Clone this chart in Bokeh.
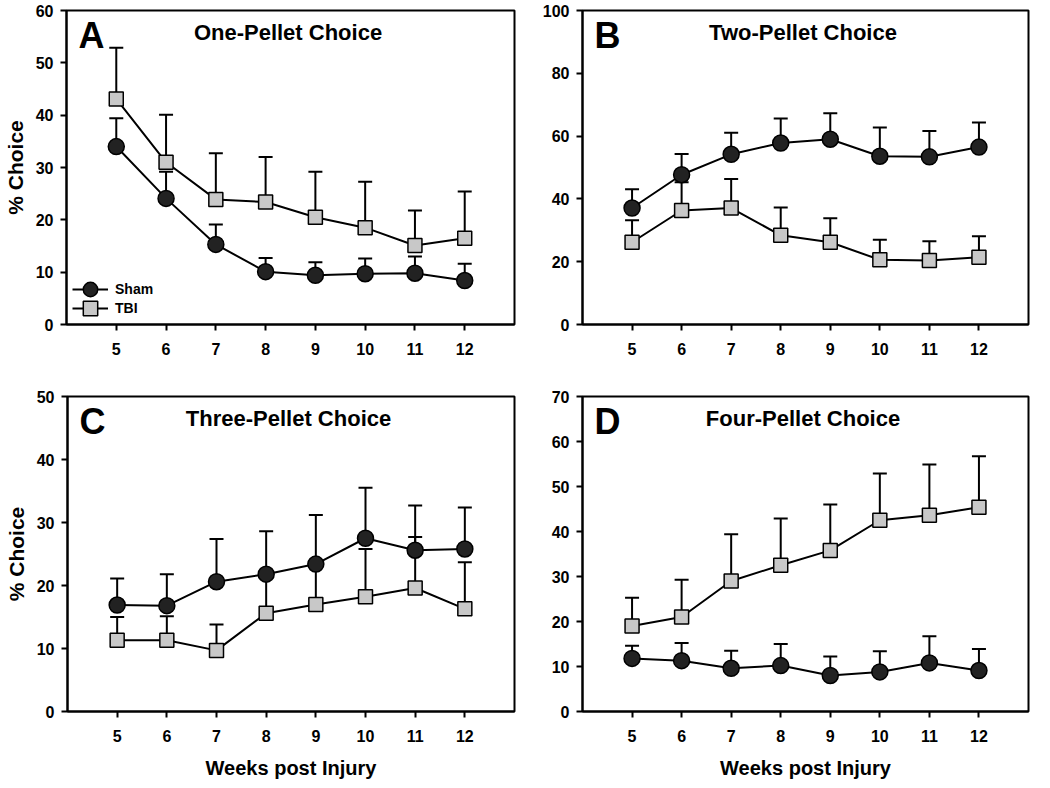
from bokeh.plotting import figure
from bokeh.models import (Range1d, Whisker, TeeHead, ColumnDataSource, Label,
                          Legend, LegendItem, FixedTicker)
from bokeh.layouts import column, row
from bokeh.embed import file_html
from bokeh.resources import INLINE

weeks = [5, 6, 7, 8, 9, 10, 11, 12]

A_sham = [34.0, 24.1, 15.3, 10.1, 9.4, 9.7, 9.8, 8.4]
A_sham_sem = [5.4, 5.1, 3.8, 2.6, 2.5, 2.9, 3.2, 3.2]
A_tbi = [43.1, 31.0, 23.9, 23.4, 20.5, 18.5, 15.1, 16.5]
A_tbi_sem = [9.8, 9.1, 8.8, 8.6, 8.7, 8.8, 6.7, 8.9]

B_sham = [37.1, 47.7, 54.2, 57.8, 59.0, 53.6, 53.4, 56.5]
B_sham_sem = [6.0, 6.6, 6.9, 7.8, 8.3, 9.1, 8.2, 7.8]
B_tbi = [26.2, 36.3, 37.1, 28.4, 26.2, 20.6, 20.4, 21.4]
B_tbi_sem = [7.0, 9.0, 9.2, 8.9, 7.6, 6.4, 6.1, 6.7]

C_sham = [16.9, 16.8, 20.6, 21.8, 23.4, 27.5, 25.6, 25.8]
C_sham_sem = [4.2, 5.0, 6.8, 6.8, 7.8, 8.0, 7.1, 6.6]
C_tbi = [11.3, 11.3, 9.7, 15.6, 17.0, 18.2, 19.6, 16.3]
C_tbi_sem = [3.7, 3.8, 4.1, 5.9, 6.0, 7.6, 8.1, 7.4]

D_sham = [11.8, 11.3, 9.6, 10.2, 8.0, 8.8, 10.8, 9.1]
D_sham_sem = [2.8, 3.9, 3.9, 4.8, 4.2, 4.6, 5.9, 4.8]
D_tbi = [19.0, 21.0, 29.0, 32.5, 35.8, 42.5, 43.6, 45.4]
D_tbi_sem = [6.3, 8.3, 10.4, 10.4, 10.2, 10.4, 11.3, 11.3]

FONT = "Liberation Sans"
SHAM_FILL = "#222222"
TBI_FILL = "#c8c8c8"


def make_legend(label, renderers, loc):
    return Legend(items=[LegendItem(label=label, renderers=renderers)],
                  location=loc, glyph_width=36, glyph_height=36,
                  label_height=16, spacing=0, padding=0, margin=0,
                  label_standoff=7, border_line_alpha=0,
                  background_fill_alpha=0,
                  label_text_font=FONT, label_text_font_style="bold",
                  label_text_font_size="14px", label_text_color="black")


def panel(sham, sham_sem, tbi, tbi_sem, ymax, ystep, letter, title,
          width, height, bl, br, bt, bb, ylabel=None, xlabel=None, legend=False):
    p = figure(width=width, height=height, output_backend="svg", toolbar_location=None,
               x_range=Range1d(4, 13), y_range=Range1d(0, ymax),
               min_border_left=bl, min_border_right=br, min_border_top=bt,
               min_border_bottom=bb)
    p.xgrid.visible = False
    p.ygrid.visible = False
    p.outline_line_color = "black"
    p.outline_line_width = 2
    p.outline_line_alpha = 1
    p.background_fill_color = "white"
    p.border_fill_color = "white"

    for ax in (p.xaxis[0], p.yaxis[0]):
        ax.axis_line_width = 2
        ax.axis_line_color = "black"
        ax.major_tick_line_width = 2
        ax.major_tick_line_color = "black"
        ax.major_tick_out = 6
        ax.major_tick_in = 0
        ax.minor_tick_out = 0
        ax.minor_tick_in = 0
        ax.major_label_text_font = FONT
        ax.major_label_text_font_style = "bold"
        ax.major_label_text_font_size = "16px"
        ax.major_label_text_color = "black"
        ax.axis_label_text_font = FONT
        ax.axis_label_text_font_style = "bold"
        ax.axis_label_text_font_size = "20px"
        ax.axis_label_text_color = "black"
    p.yaxis.axis_label_text_font_size = "21px"
    p.xaxis.ticker = FixedTicker(ticks=weeks)
    p.yaxis.ticker = FixedTicker(ticks=list(range(0, ymax + 1, ystep)))
    p.xaxis.major_label_standoff = 12
    p.yaxis.major_label_standoff = 7
    if ylabel:
        p.yaxis.axis_label = ylabel
        p.yaxis.axis_label_standoff = 6
    if xlabel:
        p.xaxis.axis_label = xlabel
        p.xaxis.axis_label_standoff = 12

    sems = ColumnDataSource(dict(x=weeks, y=sham, up=[a + b for a, b in zip(sham, sham_sem)]))
    tems = ColumnDataSource(dict(x=weeks, y=tbi, up=[a + b for a, b in zip(tbi, tbi_sem)]))

    for src in (tems, sems):
        w = Whisker(source=src, base="x", lower="y", upper="up",
                    lower_head=None,
                    upper_head=TeeHead(size=14, line_width=2, line_color="black"),
                    line_width=2, line_color="black")
        p.add_layout(w)

    lt = p.line("x", "y", source=tems, line_color="black", line_width=2)
    mt = p.scatter("x", "y", source=tems, marker="square", size=14,
                   fill_color=TBI_FILL, line_color="black", line_width=1.5)
    ls = p.line("x", "y", source=sems, line_color="black", line_width=2)
    ms = p.scatter("x", "y", source=sems, marker="circle", size=16,
                   fill_color=SHAM_FILL, line_color="black", line_width=1.5)

    fw = width - bl - br
    fh = height - bt - bb
    p.add_layout(Label(x=4 + 12 / fw * 9, y=ymax - 25 / fh * ymax, text=letter,
                       text_font=FONT, text_font_style="bold", text_font_size="36px",
                       text_align="left", text_baseline="middle", text_color="black"))
    p.add_layout(Label(x=8.45, y=ymax - 22 / fh * ymax, text=title,
                       text_font=FONT, text_font_style="bold", text_font_size="22px",
                       text_align="center", text_baseline="middle", text_color="black"))

    if legend:
        p.add_layout(make_legend("Sham", [ls, ms], (6, 17)))
        p.add_layout(make_legend("TBI", [lt, mt], (6, -2)))
    return p


pA = panel(A_sham, A_sham_sem, A_tbi, A_tbi_sem, 60, 10, "A", "One-Pellet Choice",
           526, 384, 66, 12, 10, 60, ylabel="% Choice", legend=True)
pB = panel(B_sham, B_sham_sem, B_tbi, B_tbi_sem, 100, 20, "B", "Two-Pellet Choice",
           512, 384, 56, 10, 10, 60)
pC = panel(C_sham, C_sham_sem, C_tbi, C_tbi_sem, 50, 10, "C", "Three-Pellet Choice",
           526, 400, 67, 12, 12, 73, ylabel="% Choice", xlabel="Weeks post Injury")
pD = panel(D_sham, D_sham_sem, D_tbi, D_tbi_sem, 70, 10, "D", "Four-Pellet Choice",
           512, 400, 56, 10, 12, 73, xlabel="Weeks post Injury")

layout = column(row(pA, pB), row(pC, pD))
open("out.html", "w").write(file_html(layout, INLINE))
